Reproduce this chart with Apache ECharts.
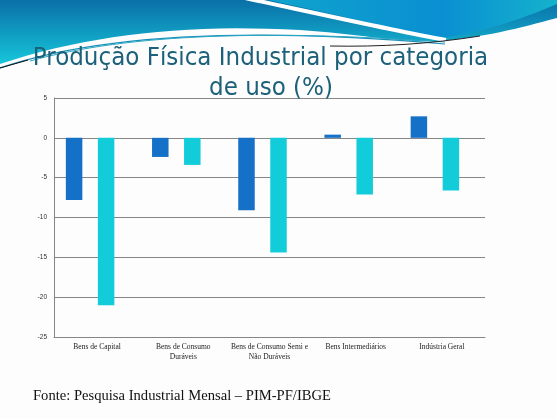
<!DOCTYPE html>
<html><head><meta charset="utf-8">
<script src="https://cdn.jsdelivr.net/npm/echarts@6/dist/echarts.min.js"></script>
<style>html,body{margin:0;padding:0;background:#fdfdfd}#c{width:557px;height:419px}</style>
</head><body><div id="c"></div>
<script>
const categories = ['Bens de Capital', 'Bens de Consumo\nDuráveis', 'Bens de Consumo Semi e\nNão Duráveis', 'Bens Intermediários', 'Indústria Geral'];
const seriesA = [-7.8, -2.4, -9.1, 0.4, 2.7];
const seriesB = [-21.0, -3.4, -14.4, -7.1, -6.6];
const yMin = -25, yMax = 5, yStep = 5;
const titleLine1 = 'Produção Física Industrial por categoria';
const titleLine2 = 'de uso (%)';
const sourceText = 'Fonte: Pesquisa Industrial Mensal – PIM-PF/IBGE';

// decorative header wave: sample cubic bezier segments into polygon points
function bez(p0, c1, c2, p1, n) {
  const out = [];
  for (let i = 0; i <= n; i++) {
    const t = i / n, u = 1 - t;
    out.push([
      u*u*u*p0[0] + 3*u*u*t*c1[0] + 3*u*t*t*c2[0] + t*t*t*p1[0],
      u*u*u*p0[1] + 3*u*u*t*c1[1] + 3*u*t*t*c2[1] + t*t*t*p1[1]
    ]);
  }
  return out;
}
const bigWave = [[0,0],[557,0],[557,18]]
  .concat(bez([557,18],[520,28],[480,38],[440,41],16))
  .concat(bez([440,41],[400,43],[350,33],[300,30],16))
  .concat(bez([300,30],[190,24],[90,34],[0,64],20));
const rightWave = [[268,0],[557,0],[557,4]]
  .concat(bez([557,4],[520,20],[480,33],[440,38],16))
  .concat(bez([440,38],[390,28],[330,13],[268,0],16));

const chart = echarts.init(document.getElementById('c'));
const axisGray = '#868686';
chart.setOption({
  backgroundColor: '#fdfdfd',
  animation: false,
  graphic: [
    { type: 'polygon', z: 0, shape: { points: bigWave },
      style: { fill: new echarts.graphic.LinearGradient(0, 0, 0, 1, [{ offset: 0, color: '#0a6fa8' }, { offset: 1, color: '#16c6da' }]) } },
    { type: 'polygon', z: 0, shape: { points: rightWave },
      style: { fill: new echarts.graphic.LinearGradient(0, 0, 1, 0, [{ offset: 0, color: '#0fa4cc' }, { offset: 0.6, color: '#0a8fd2' }, { offset: 1, color: '#14b2cc' }]) } },
    { type: 'bezierCurve', z: 1, shape: { x1: 245, y1: -2, cpx1: 320, cpy1: 14, cpx2: 390, cpy2: 30, x2: 446, y2: 40 }, style: { fill: null, stroke: '#ffffff', lineWidth: 4 } },
    { type: 'bezierCurve', z: 1, shape: { x1: 0, y1: 68, cpx1: 100, cpy1: 34, cpx2: 250, cpy2: 27, x2: 445, y2: 44 }, style: { fill: null, stroke: '#1a8fb8', lineWidth: 1.2 } },
    { type: 'bezierCurve', z: 1, shape: { x1: 30, y1: 61, cpx1: 130, cpy1: 33, cpx2: 270, cpy2: 30, x2: 445, y2: 42 }, style: { fill: null, stroke: '#2aa6c4', lineWidth: 1 } },
    { type: 'line', z: 1, shape: { x1: 0, y1: 68, x2: 28, y2: 60 }, style: { stroke: '#111', lineWidth: 1 } },
    { type: 'bezierCurve', z: 1, shape: { x1: 330, y1: 46, cpx1: 380, cpy1: 47, cpx2: 430, cpy2: 44, x2: 480, y2: 36 }, style: { fill: null, stroke: '#222', lineWidth: 1 } },
    { type: 'text', z: 5, x: 260.5, y: 58, style: { text: titleLine1, textAlign: 'center', textVerticalAlign: 'middle', font: '25.6px "DejaVu Sans Condensed", "DejaVu Sans"', fill: '#1c6079' } },
    { type: 'text', z: 5, x: 271, y: 88, style: { text: titleLine2, textAlign: 'center', textVerticalAlign: 'middle', font: '25.6px "DejaVu Sans Condensed", "DejaVu Sans"', fill: '#1c6079' } },
    { type: 'text', z: 5, x: 33, y: 396, style: { text: sourceText, textAlign: 'left', textVerticalAlign: 'middle', font: '14.6px "Liberation Serif"', fill: '#111' } }
  ],
  grid: [
    { left: 54, right: 72, top: 98, bottom: 82 },
    { left: 47, right: 79, top: 98, bottom: 82 }
  ],
  xAxis: [
    { type: 'category', gridIndex: 0, data: categories,
      axisLine: { onZero: false, lineStyle: { color: axisGray } }, axisTick: { show: false },
      axisLabel: { interval: 0, margin: 5, fontSize: 7.5, lineHeight: 10, color: '#222', fontFamily: 'Liberation Serif' } },
    { type: 'category', gridIndex: 1, data: categories, show: false }
  ],
  yAxis: [
    { type: 'value', gridIndex: 0, min: yMin, max: yMax, interval: yStep,
      axisLine: { show: true, lineStyle: { color: axisGray } }, axisTick: { show: false },
      splitLine: { lineStyle: { color: axisGray, width: 1 } },
      axisLabel: { margin: 7, fontSize: 6.5, color: '#333', fontFamily: 'Liberation Sans' } },
    { type: 'value', gridIndex: 1, min: yMin, max: yMax, interval: yStep, show: false, splitLine: { show: false } }
  ],
  series: [
    { name: 'Série 1', type: 'bar', xAxisIndex: 1, yAxisIndex: 1, data: seriesA, barWidth: 16.5, barGap: '94%', itemStyle: { color: '#1570c8' } },
    { name: 'Série 2', type: 'bar', xAxisIndex: 1, yAxisIndex: 1, data: seriesB, barWidth: 16.5, barGap: '94%', itemStyle: { color: '#12cdd9' } }
  ]
});
</script>
</body></html>
